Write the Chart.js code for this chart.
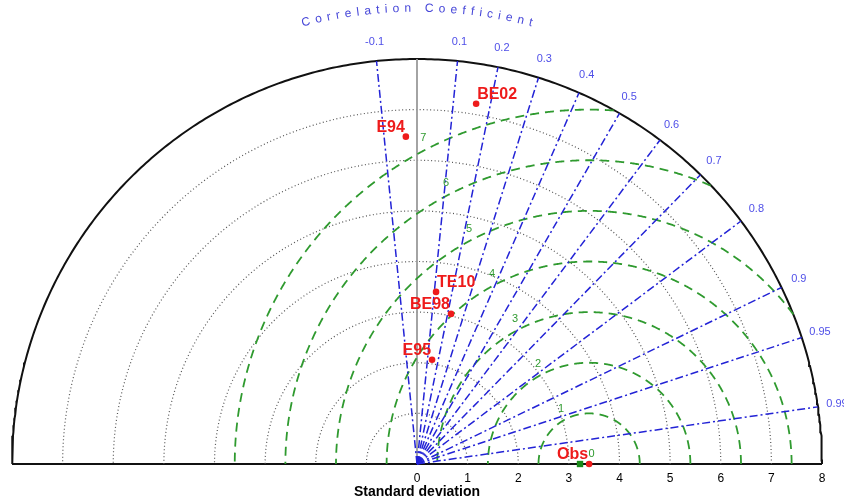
<!DOCTYPE html>
<html><head><meta charset="utf-8">
<script src="https://cdn.jsdelivr.net/npm/chart.js@4/dist/chart.umd.min.js"></script>
<style>html,body{margin:0;padding:0;background:#fff}#wrap{width:844px;height:502px;position:relative}</style>
</head><body><div id="wrap"><canvas id="c"></canvas></div>
<script>
// ---- data ----
const modelNames = ['BE02','E94','TE10','BE98','E95','Obs'];
const modelStd   = [7.21, 6.47, 3.42, 3.04, 2.08, 3.40];
const modelCorr  = [0.162, -0.034, 0.110, 0.221, 0.143, 1.0];
const labelAlign = ['left','right','left','right','right','right'];
const refStd = 3.40;          // observation std (centre of RMS circles)
const refMarkerStd = 3.22;    // green reference square
const stdTicks = [0,1,2,3,4,5,6,7,8];
const stdCircles = [1,2,3,4,5,6,7];
const maxStd = 8;
const corrTicks = [-0.1,0.1,0.2,0.3,0.4,0.5,0.6,0.7,0.8,0.9,0.95,0.99];
const corrTickLabels = ['-0.1','0.1','0.2','0.3','0.4','0.5','0.6','0.7','0.8','0.9','0.95','0.99'];
const rmsCircles = [1,2,3,4,5,6,7];
const rmsLabelValues = [0,1,2,3,4,5,6,7];
const corrTitle = 'Correlation Coefficient';
const xTitle = 'Standard deviation';

// ---- helpers ----
const toXY = (s, c) => ({x: s*c, y: s*Math.sqrt(Math.max(0,1-c*c))});
function arc(r){ const p=[]; for(let a=0;a<=180;a+=0.5){const t=a*Math.PI/180; p.push({x:r*Math.cos(t), y:r*Math.sin(t)});} return p; }
function rmsArc(r){ const p=[]; for(let a=0;a<=180;a+=0.2){const t=a*Math.PI/180; const x=refStd+r*Math.cos(t), y=r*Math.sin(t); if(Math.hypot(x,y)<=maxStd+1e-9) p.push({x,y}); else p.push({x:x,y:null});} return p; }

const BLUE='#2323d6', GREEN='#2f9a2f', DOT='#555', RED='#ee1b1b';
const FONT='"Liberation Sans", Arial, sans-serif';

const datasets = [];
// model points (on top)
datasets.push({data: modelStd.map((s,i)=>toXY(s,modelCorr[i])), pointRadius:3.3, pointBackgroundColor:RED, pointBorderWidth:0, showLine:false});
datasets.push({data:[toXY(refMarkerStd,1)], pointStyle:'rect', pointRadius:4.5, pointBackgroundColor:'#1a8a1a', pointBorderWidth:0, showLine:false});
// correlation lines
corrTicks.forEach(c=>datasets.push({data:[{x:0,y:0}, toXY(maxStd,c)], showLine:true, pointRadius:0, borderColor:BLUE, borderWidth:1.5, borderDash:[8,3,2,3]}));
// RMS circles
rmsCircles.forEach(r=>datasets.push({data:rmsArc(r), showLine:true, pointRadius:0, borderColor:GREEN, borderWidth:1.8, borderDash:[9,6], spanGaps:false}));
// zero-correlation line
datasets.push({data:[{x:0,y:0},{x:0,y:maxStd}], showLine:true, pointRadius:0, borderColor:'#9a9a9a', borderWidth:1.8});
// std circles
stdCircles.forEach(r=>datasets.push({data:arc(r), showLine:true, pointRadius:0, borderColor:DOT, borderWidth:1.2, borderDash:[1,2.5]}));
// outer arc and baseline
datasets.push({data:arc(maxStd), showLine:true, pointRadius:0, borderColor:'#111', borderWidth:2});
datasets.push({data:[{x:-maxStd,y:0},{x:maxStd,y:0}], showLine:true, pointRadius:0, borderColor:'#111', borderWidth:2});
datasets.forEach(d=>{d.clip=false; d.tension=0;});

const textPlugin = {
  id:'taylorText',
  afterDatasetsDraw(chart){
    const ctx=chart.ctx, xs=chart.scales.x, ys=chart.scales.y;
    const px=v=>xs.getPixelForValue(v), py=v=>ys.getPixelForValue(v);
    const ox=px(0), oy=py(0), unit=px(1)-ox;
    ctx.save();
    // correlation labels
    ctx.font='11px '+FONT; ctx.fillStyle='#4f4fe8'; ctx.textAlign='center'; ctx.textBaseline='middle';
    corrTicks.forEach((c,i)=>{const p=toXY(8.38,c); ctx.fillText(corrTickLabels[i], px(p.x), py(p.y));});
    // curved title
    ctx.font='12px '+FONT; ctx.fillStyle='#4646d8';
    const R=9.0*unit, sp=5.2;
    const ws=[...corrTitle].map(ch=>ctx.measureText(ch).width);
    const total=ws.reduce((a,b)=>a+b,0)+sp*(ws.length-1);
    let acc=0; const a0=Math.PI/2+total/(2*R);
    [...corrTitle].forEach((ch,i)=>{
      const a=a0-(acc+ws[i]/2)/R; acc+=ws[i]+sp;
      ctx.save(); ctx.translate(ox+R*Math.cos(a), oy-R*Math.sin(a)); ctx.rotate(Math.PI/2-a);
      ctx.fillText(ch,0,0); ctx.restore();
    });
    // RMS labels
    ctx.font='11px '+FONT; ctx.fillStyle=GREEN;
    const la=63*Math.PI/180;
    rmsLabelValues.forEach(k=>{const r=k+0.22; ctx.fillText(String(k), px(refStd-r*Math.cos(la)+(k===0?0.15:0)), py(r*Math.sin(la)));});
    // model labels
    ctx.font='bold 16px '+FONT; ctx.fillStyle=RED; ctx.textBaseline='alphabetic';
    modelNames.forEach((n,i)=>{const p=toXY(modelStd[i],modelCorr[i]); ctx.textAlign=labelAlign[i]; ctx.fillText(n, px(p.x)+(labelAlign[i]==='left'?1:-1), py(p.y)-5);});
    ctx.restore();
  }
};

new Chart(document.getElementById('c'), {
  type:'scatter',
  data:{datasets},
  options:{
    responsive:true, maintainAspectRatio:false, animation:false,
    layout:{padding:{left:12,right:22,top:59,bottom:0}},
    plugins:{legend:{display:false}, tooltip:{enabled:false}},
    scales:{
      x:{type:'linear', min:-maxStd, max:maxStd,
         afterBuildTicks:s=>{s.ticks=stdTicks.map(v=>({value:v}));},
         ticks:{autoSkip:false, maxRotation:0, padding:7, color:'#000', font:{family:FONT, size:12}, callback:v=>String(v)},
         grid:{display:false, drawTicks:false}, border:{display:false},
         title:{display:true, text:xTitle, color:'#000', font:{family:FONT, size:14, weight:'bold'}, padding:{top:0,bottom:1}},
         afterFit:s=>{s.height=38;}},
      y:{min:0, max:maxStd, display:false}
    }
  },
  plugins:[textPlugin]
});
</script></body></html>
